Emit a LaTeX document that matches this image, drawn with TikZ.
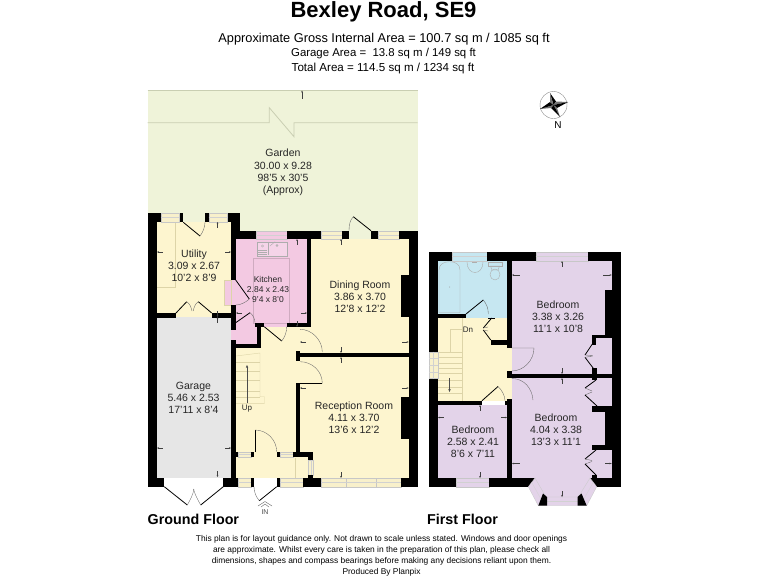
\documentclass[tikz,border=0pt]{standalone}
\usepackage{fontspec}
\setmainfont{Liberation Sans}
\definecolor{gardenc}{HTML}{EFF3D9}
\definecolor{gardenl}{HTML}{C9CEB2}
\definecolor{yellowc}{HTML}{FDF5CF}
\definecolor{pinkc}{HTML}{F3C9E2}
\definecolor{purplec}{HTML}{E3D3E9}
\definecolor{bluec}{HTML}{C6E7F1}
\definecolor{greyc}{HTML}{E6E6E6}
\definecolor{linec}{HTML}{DDD4A8}
\definecolor{winy}{HTML}{F8F0CB}
\tikzset{
  roomlabel/.style={align=center,font=\fontsize{10.5}{12.2}\selectfont,inner sep=0pt,text=black!85},
  headtext/.style={align=center,inner sep=0pt},
  floortext/.style={font=\bfseries\fontsize{14.3}{16}\selectfont,inner sep=0pt,anchor=west},
  leaf/.style={line width=0.8pt,black},
  swing/.style={line width=0.35pt,black!60},
  dim/.style={line width=0.3pt,black!75,{Stealth[length=2pt,width=1.6pt]}-},
  win/.style={fill=#1,draw=black!22,line width=0.3pt},
  fixture/.style={draw=black!32,line width=0.4pt},
}
\usetikzlibrary{arrows.meta}
\newcommand{\wl}[4]{\fill[black] (#1,#2) rectangle (#3,#4);}
\newcommand{\wn}[5]{\path[win=#5] (#1,#2) rectangle (#3,#4);\draw[black!18,line width=0.25pt] (#1,{(#2+#4)/2}) -- (#3,{(#2+#4)/2});}
\newcommand{\wnv}[5]{\path[win=#5] (#1,#2) rectangle (#3,#4);\draw[black!18,line width=0.25pt] ({(#1+#3)/2},#2) -- ({(#1+#3)/2},#4);}
\begin{document}
\begin{tikzpicture}[x=1pt,y=-1pt]
\useasboundingbox (0,0) rectangle (768,576);
\fill[white] (0,0) rectangle (768,576);
% garden
\fill[gardenc] (147.5,90.5) rectangle (417.5,231);
\fill[gardenc] (183,213) rectangle (205,222);
\fill[gardenc] (349,230) rectangle (371,239.3);
\draw[gardenl,line width=0.4pt] (147.5,90.5) -- (417.5,90.5);
\draw[gardenl,line width=0.8pt] (147.5,122.7) -- (269.3,122.7) -- (269.3,107.7) -- (294,136.7) -- (294,122.7) -- (417.5,122.7);
% floors, ground
\fill[yellowc] (156.7,222) rectangle (231,313.5);
\fill[yellowc] (176,313) rectangle (212,317.5);
\fill[greyc] (156.7,317) rectangle (231,477.7);
\fill[pinkc] (235.7,239) rectangle (306.7,327);
\fill[pinkc] (235.7,323) rectangle (256.7,344);
\fill[pinkc] (224.5,280) -- (236,280) -- (236,305) -- (224.5,305) -- cycle;
\fill[yellowc] (311,239) rectangle (408.7,353);
\fill[yellowc] (300,327) rectangle (311,357);
\fill[yellowc] (261,327) rectangle (300,452);
\fill[yellowc] (235.7,348) rectangle (300,452);
\fill[yellowc] (300,357) rectangle (408.7,478);
\fill[yellowc] (235.7,452) rectangle (308,478);
% utility lines
\draw[linec,line width=0.3pt] (175,222) -- (175,286.7) -- (157,286.7);
\draw[linec,line width=0.4pt] (224.5,280) rectangle (231,305);
% kitchen worktop lines
\draw[pinkc!85!black,line width=0.3pt] (253.3,258) rectangle (289.3,322.7);
% sink
\draw[fixture,fill=pinkc!80!white] (256.7,241.7) rectangle (286.7,256);
\draw[fixture] (268,242.5) -- (268,255);
\draw[fixture] (258,250) -- (267,250) (258,252) -- (267,252) (258,254) -- (267,254);
\draw[fixture] (262.5,246) circle (1.2);
\draw[fixture] (277,245.5) circle (1);
\draw[fixture] (270,246) -- (275,241.7);
% stairs ground
\draw[linec,line width=0.4pt] (236,356) -- (260,353) -- (260,396.7) -- (264.5,396.7) -- (264.5,403.3) -- (236,403.3);
\foreach \yy in {361.7,370.7,380,390.7,396.7}{\draw[linec,line width=0.4pt] (236,\yy) -- (260,\yy);}
\draw[linec,line width=0.4pt] (295,458) -- (295,478);
\draw[line width=0.3pt,black!70,-{Stealth[length=3pt,width=2.4pt]}] (247,403) -- (247,365);
% walls ground
\wl{147.5}{213}{156.7}{486.7}
\wl{147.5}{213}{160.7}{222}
\wl{179}{213}{183}{222}
\wl{205}{213}{208.7}{222}
\wl{227}{213}{240}{222}
\wn{160.7}{213}{179}{222}{winy}
\wn{208.7}{213}{227}{222}{winy}
\wl{231}{213}{240}{239}
\wl{240}{230.7}{256}{239.3}
\wn{256}{230.7}{286.7}{239.3}{pinkc}
\wl{286.7}{230.7}{321}{239.3}
\wn{321}{230.7}{341.7}{239.3}{winy}
\wl{341.7}{230.7}{349}{239.3}
\wl{371}{230.7}{377.7}{239.3}
\wn{377.7}{230.7}{399}{239.3}{winy}
\wl{399}{230.7}{417.5}{239.3}
\wl{408.7}{231}{417.5}{486.7}
\wl{400.7}{275}{408.7}{317}
\wl{400.7}{396.7}{408.7}{439}
\wl{231}{239}{235.7}{280}
\wl{231}{305}{235.7}{330}
\wl{231}{340}{235.7}{477.7}
\fill[pinkc] (231,330) rectangle (235.7,340);
\wl{156.7}{313}{176}{317.5}
\wl{212}{313}{231}{317.5}
\wl{306.7}{239}{311}{327}
\wl{286.7}{322.7}{311}{327}
\wl{255}{322.7}{264.3}{327}
\wl{256.7}{327}{261}{348}
\wl{235.7}{344}{261}{348}
\wl{295.7}{352.7}{408.7}{357.3}
\wl{295.7}{351}{300}{361}
\wl{295.7}{383.3}{300}{451.7}
\wl{235.7}{451.7}{238}{456.7}
\wn{238}{451.7}{251}{456.7}{winy}
\wl{251}{451.7}{254.3}{456.7}
\wl{276.7}{451.7}{280}{456.7}
\wn{280}{451.7}{293}{456.7}{winy}
\wl{293}{451.7}{313.3}{456.7}
\wl{308}{456.7}{313.3}{460}
\wnv{308}{460}{313.3}{475}{winy}
\wl{308}{475}{313.3}{478}
\wl{147.5}{477.7}{164.3}{486.7}
\wl{223.3}{477.7}{238}{486.7}
\wn{238}{477.7}{251}{486.7}{winy}
\wl{251}{477.7}{254.3}{486.7}
\wl{276.7}{477.7}{280}{486.7}
\wn{280}{477.7}{303.3}{486.7}{winy}
\wl{303.3}{477.7}{321}{486.7}
\wn{321}{477.7}{346}{486.7}{winy}
\wn{346}{477.7}{376}{486.7}{winy}
\wn{376}{477.7}{401}{486.7}{winy}
\wl{401}{477.7}{417.5}{486.7}
% doors ground
\draw[leaf] (183.3,222.3) -- (200,236); \draw[swing] (200,236) .. controls (203,232) and (205,227) .. (205,222);
\draw[leaf] (176,313) -- (186.7,301.7); \draw[swing] (186.7,301.7) .. controls (190,304) and (191,307) .. (192,311);
\draw[leaf] (211.7,313) -- (198.3,301.7); \draw[swing] (198.3,301.7) .. controls (195,304) and (194,307) .. (193.3,311);
\draw[leaf] (235.7,280) -- (249.3,299); \draw[swing] (249.3,299) .. controls (245,303) and (240,305) .. (235.7,305);
\draw[leaf] (235.7,322.7) -- (250,312.7); \draw[swing] (250,312.7) .. controls (253,315) and (255,319) .. (255,322.7);
\draw[leaf] (264.3,326.7) -- (281.7,341); \draw[swing] (281.7,341) .. controls (285,337) and (286.7,332) .. (286.7,326.7);
\draw[swing] (300,329.3) .. controls (312,329.3) and (322.3,340) .. (322.3,352);
\draw[swing] (300,361.7) .. controls (312,361.7) and (322.3,371) .. (322.3,383.3);
\draw[leaf] (322.3,383.3) -- (300,383.3);
\draw[leaf] (255,430) -- (255,451.7); \draw[swing] (255,430) .. controls (267,430) and (276.7,440) .. (276.7,451.7);
\draw[leaf] (276.7,486.7) -- (259.3,500.7); \draw[swing] (259.3,500.7) .. controls (256,497) and (254,492) .. (254,486.7);
\draw[leaf] (164.3,486.7) -- (187.3,505); \draw[swing] (187.3,505) .. controls (190,500) and (193,495) .. (194,489);
\draw[leaf] (223.3,486.7) -- (200.7,505); \draw[swing] (200.7,505) .. controls (198,500) and (195,495) .. (193.5,489);
\draw[leaf] (353.3,216.7) -- (371,230.7); \draw[swing] (353.3,216.7) .. controls (350,220) and (349,225) .. (349,230.7);
% IN arrow
\draw[black!60,line width=0.4pt] (258,506) -- (265,501.5) -- (272,506) (261,507) -- (265,504) -- (269,507);
\node[inner sep=0pt,font=\fontsize{7}{8}\selectfont,text=black!70] (inlabel) at (265,512.5) {IN};
% dim ticks ground
\foreach \ax/\ay/\bx/\by in {
157/252/163/252, 231/252/225/252,
217.5/222/217.5/228, 217.5/317/217.5/311,
157/448/163/448, 231/448/225/448,
217.5/477/217.5/471, 217.5/317/217.5/323,
236/313/242/313, 307/313/301/313,
297/239/297/245, 297/327/297/321,
302/90.5/302/99,
341/239/341/245, 341/353/341/347,
408.7/342/402/342,
300/342/306/342,
341/357/341/363, 341/478/341/472,
300/388/306/388, 408.7/388/402/388}
{\draw[dim] (\ax,\ay) -- (\bx,\by);}
% first floor floors
\fill[bluec] (437.7,260.7) rectangle (507.3,318);
\fill[yellowc] (437.7,318) rectangle (507.3,400.7);
\fill[yellowc] (429,351.7) rectangle (437.7,378.5);
\fill[yellowc] (507.3,348) rectangle (511.7,371);
\fill[yellowc] (507.3,378) rectangle (511.7,400);
\fill[purplec] (511.7,260.7) rectangle (611.7,374);
\fill[purplec] (511.7,378) rectangle (611.7,478);
\fill[purplec] (535,478) -- (546,497) -- (578.3,497) -- (590,478) -- cycle;
\fill[purplec] (437.7,405) rectangle (507.3,478);
% bathroom fixtures
\draw[fixture] (439,312.7) -- (439,270) .. controls (439,264) and (444,261.7) .. (449.5,261.7) .. controls (455,261.7) and (460,264) .. (460,270) -- (460,312.7) -- cycle;
\fill[black!40] (449.5,287) circle (0.5);
\draw[fixture] (467,262) .. controls (467,276) and (483,276) .. (483,262);
\draw[fixture] (472,262.5) -- (477,262.5);
\draw[fixture] (488,262) rectangle (502,266);
\draw[fixture] (490.5,266) -- (499.5,266) -- (498,270) -- (492,270) -- cycle;
\draw[fixture] (495,274.5) ellipse (5 and 5.5);
% stairs first
\draw[linec,line width=0.4pt] (450,351.7) -- (450,329) -- (461.7,329);
\draw[linec,line width=0.4pt] (461.7,318) -- (461.7,400.7);
\foreach \yy in {351.7,357.3,363.3,368.3,373,380,387,393}{\draw[linec,line width=0.4pt] (437.7,\yy) -- (461.7,\yy);}
\draw[line width=0.3pt,black!70,-{Stealth[length=3pt,width=2.4pt]}] (449.5,378) -- (449.5,392);
% walls first
\wl{429}{251.7}{437.7}{351.7}
\wl{429}{378.5}{437.7}{486.7}
\wnv{429}{351.7}{437.7}{378.5}{winy}
\foreach \yy in {358,365,372}{\draw[black!18,line width=0.25pt] (429,\yy) -- (437.7,\yy);}
\wl{429}{251.7}{452}{260.7}
\wn{452}{251.7}{487}{260.7}{bluec}
\wl{487}{251.7}{535.7}{260.7}
\wn{535.7}{251.7}{588}{260.7}{purplec}
\wl{588}{251.7}{620.7}{260.7}
\wl{611.7}{251.7}{620.7}{486.7}
\wl{507.3}{260.7}{511.7}{348}
\wl{437.7}{314}{466}{318.3}
\wl{488.3}{318}{495}{319.3}
\wl{490.7}{340}{507.3}{345}
\wl{507.3}{371}{511.7}{378}
\wl{507.3}{374}{611.7}{378.3}
\wl{605}{290}{611.7}{335}
\wl{591.7}{335}{611.7}{338.3}
\wl{591.7}{335}{596}{345}
\wl{592}{368}{597}{380}
\wl{592.3}{406}{611.7}{411.7}
\wl{605}{411.7}{611.7}{448}
\wl{592.3}{445}{611.7}{449.5}
\wl{591.7}{475}{597}{480}
\wl{507.3}{399.3}{511.7}{478}
\wl{437.7}{400.7}{481.7}{405}
\wl{505}{400.7}{507.3}{405}
\wl{429}{478}{456}{486.7}
\wn{456}{478}{489.3}{486.7}{purplec}
\wl{489.3}{478}{535}{486.7}
\wl{590}{478}{620.7}{486.7}
% bay
\path[win=purplec] (535,478) -- (546,497) -- (538.3,505.7) -- (528.3,486.7) -- cycle;
\draw[black!18,line width=0.25pt] (531.7,482.3) -- (542.2,501.3);
\path[win=purplec] (590,478) -- (578.3,497) -- (586.7,505.7) -- (596.7,486.7) -- cycle;
\draw[black!18,line width=0.25pt] (593.3,482.3) -- (582.5,501.3);
\path[win=purplec] (546,497) -- (578.3,497) -- (586.7,505.7) -- (538.3,505.7) -- cycle;
\draw[black!18,line width=0.25pt] (542,501.3) -- (582.5,501.3);
\fill[black] (543,493.5) -- (547,497) -- (547,505.7) -- (538.3,505.7) -- cycle;
\fill[black] (581.5,493.5) -- (577.5,497) -- (577.5,505.7) -- (586.7,505.7) -- cycle;
% doors first
\draw[leaf] (466,314) -- (483.3,300); \draw[swing] (483.3,300) .. controls (486.5,304) and (488.3,308) .. (488.3,314);
\draw[leaf] (491.7,318) -- (483.3,328); \draw[leaf] (483.3,330) -- (490.7,340);
\draw[swing] (483.3,328) -- (488,327) (483.3,330) -- (488,331);
\draw[swing] (511.7,348) -- (534,348) .. controls (534,360) and (524,371) .. (511.7,371);
\draw[swing] (511.7,378.5) .. controls (524,378.5) and (532,388) .. (533,400);
\draw[leaf] (482,400.7) -- (498,386.5); \draw[swing] (498,386.5) .. controls (502,390) and (505,396) .. (505,400.7);
\foreach \tx/\ty/\ux/\uy in {593/343/585/355, 593.3/368.3/585/357.3,
   596/380/585/388, 597/406/585/395, 596/450/585/459, 596/475/585/464}
  {\draw[leaf] (\tx,\ty) -- (\ux,\uy);}
\draw[swing] (585,355) -- (592.7,355.5) (585,357.3) -- (592.7,356);
\draw[swing] (585,459) -- (592,460.5) (585,464) -- (592,461.5);
\draw[swing] (585,388) -- (592,391) (585,395) -- (592,392);
% dims first
\foreach \ax/\ay/\bx/\by in {
512/275/520/275, 611.7/275/603/275,
562/261/562/267, 562/374/562/368,
562/378/562/384,
512/463.5/520/463.5, 611.7/463.5/605/463.5,
562/497/562/491,
438/417.5/444/417.5, 507/417.5/501/417.5,
480/405/480/411, 480/478/480/472}
{\draw[dim] (\ax,\ay) -- (\bx,\by);}
% compass
\draw[black!45,line width=0.4pt] (553.5,105) circle (13.5);
\fill[black] (553.5,105) -- (550,93) -- (556,101.5) -- cycle;
\fill[black!55] (553.5,105) -- (556,101.5) -- (568,102) -- cycle;
\fill[black] (553.5,105) -- (568,102) -- (557,108) -- cycle;
\fill[black!55] (553.5,105) -- (557,108) -- (560,117) -- cycle;
\fill[black] (553.5,105) -- (560,117) -- (551,108) -- cycle;
\fill[black!55] (553.5,105) -- (551,108) -- (540,109) -- cycle;
\fill[black] (553.5,105) -- (540,109) -- (550,102) -- cycle;
\fill[black!55] (553.5,105) -- (550,102) -- (550,93) -- cycle;
\node[inner sep=0pt,font=\fontsize{10}{11}\selectfont] (north) at (558,125.5) {N};
% labels
\node[headtext,font=\bfseries\fontsize{22}{24}\selectfont] (title) at (383.5,11.5) {Bexley Road, SE9};
\node[headtext,font=\fontsize{12.8}{14}\selectfont] (area1) at (384,39) {Approximate Gross Internal Area = 100.7 sq m / 1085 sq ft};
\node[headtext,font=\fontsize{11.4}{13}\selectfont] (area2) at (383.5,54) {Garage Area =\ \ 13.8 sq m / 149 sq ft};
\node[headtext,font=\fontsize{11.6}{13}\selectfont] (area3) at (383,68) {Total Area = 114.5 sq m / 1234 sq ft};
\node[roomlabel] (garden) at (283,172.5) {Garden\\30.00 x 9.28\\98'5 x 30'5\\(Approx)};
\node[roomlabel] (utility) at (194,266) {Utility\\3.09 x 2.67\\10'2 x 8'9};
\node[roomlabel,font=\fontsize{8.5}{10.2}\selectfont] (kitchen) at (268,289.5) {Kitchen\\2.84 x 2.43\\9'4 x 8'0};
\node[roomlabel] (dining) at (360,297) {Dining Room\\3.86 x 3.70\\12'8 x 12'2};
\node[roomlabel] (garage) at (193.5,398) {Garage\\5.46 x 2.53\\17'11 x 8'4};
\node[roomlabel] (reception) at (354,417.5) {Reception Room\\4.11 x 3.70\\13'6 x 12'2};
\node[roomlabel,font=\fontsize{8}{9}\selectfont] (up) at (247,408.5) {Up};
\node[roomlabel,font=\fontsize{8}{9}\selectfont] (dn) at (468,330) {Dn};
\node[roomlabel] (bed1) at (558,317) {Bedroom\\3.38 x 3.26\\11'1 x 10'8};
\node[roomlabel] (bed2) at (556,430) {Bedroom\\4.04 x 3.38\\13'3 x 11'1};
\node[roomlabel] (bed3) at (473,442) {Bedroom\\2.58 x 2.41\\8'6 x 7'11};
\node[floortext] (ground) at (147.5,519) {Ground Floor};
\node[floortext] (first) at (427,519) {First Floor};
\node[headtext,font=\fontsize{8.4}{11}\selectfont] (note) at (381.5,555.5) {This plan is for layout guidance only. Not drawn to scale unless stated. Windows and door openings\\are approximate. Whilst every care is taken in the preparation of this plan, please check all\\dimensions, shapes and compass bearings before making any decisions reliant upon them.\\Produced By Planpix};
\end{tikzpicture}
\end{document}
